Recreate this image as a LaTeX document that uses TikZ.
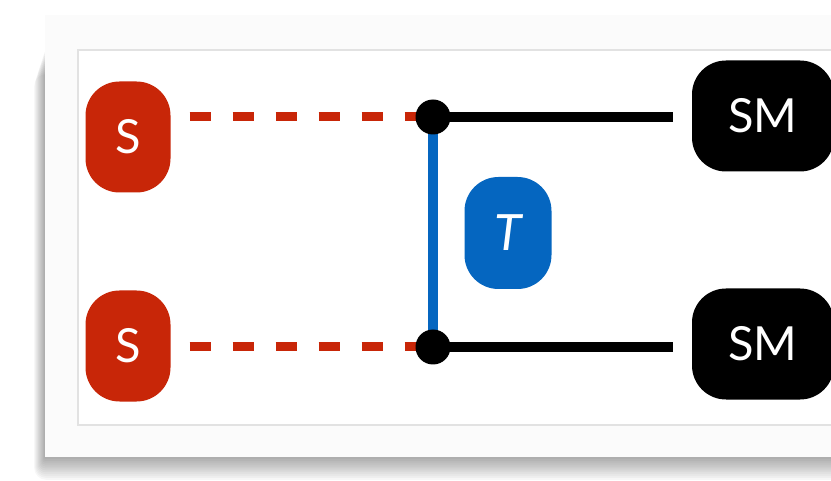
\documentclass[tikz,border=0pt]{standalone}
\usepackage{fontspec}
\setmainfont{Lato}
\usetikzlibrary{positioning,calc}
\definecolor{sred}{RGB}{200,38,8}
\definecolor{tblue}{RGB}{5,102,192}
\definecolor{cardgray}{RGB}{251,251,251}
\definecolor{panelline}{RGB}{226,226,226}

\begin{document}
\begin{tikzpicture}[
        x=1pt, y=1pt,
        box/.style={rounded corners=34pt, minimum width=85pt, minimum height=111pt, inner sep=0pt, text=white, font=\fontsize{47}{47}\selectfont},
        sbox/.style={box, fill=sred},
        tbox/.style={box, fill=tblue, minimum width=87pt, minimum height=112pt, font=\fontsize{50}{50}\selectfont\itshape},
        smbox/.style={box, fill=black, minimum width=142pt},
        joint/.style={circle, fill=black, minimum size=35pt, inner sep=0pt},
        link/.style={line width=9pt, draw=sred, dash pattern=on 21pt off 22pt, shorten <=19pt},
        wire/.style={line width=10pt, draw=black, shorten >=19pt},
        tbar/.style={line width=10pt, draw=tblue}
    ]
        \useasboundingbox (0,0) rectangle (831,480);

        % Card with shadow
        \foreach \s in {1,...,12}
            \fill[black, opacity=0.03, rounded corners=\s pt] (45-0.9*\s, 23-1.9*\s) rectangle (870, 430-2*\s);
        \fill[cardgray] (45,23) rectangle (870,465);
        \filldraw[fill=white, draw=panelline, line width=1.2pt] (78,55) rectangle (870,430);

        % Sources
        \node[sbox] (sTop) at (128,343) {S};
        \node[sbox] (sBot) at (128,134) {S};

        % T
        \node[tbox] (tMid) at (508,247) {T};

        % SM
        \node[smbox] (smTop) at (763,364) {SM};
        \node[smbox] (smBot) at (763,136) {SM};

        % Joints
        \coordinate (jTop) at (433,363);
        \coordinate (jBot) at (433,133);

        % Links
        \draw[link] (sTop.east |- jTop) -- (jTop);
        \draw[link] (sBot.east |- jBot) -- (jBot);
        \draw[wire] (jTop) -- (jTop -| smTop.west);
        \draw[wire] (jBot) -- (jBot -| smBot.west);
        \draw[tbar] (jTop) -- (jBot);

        \node[joint] (dotTop) at (jTop) {};
        \node[joint] (dotBot) at (jBot) {};
    \end{tikzpicture}
\end{document}
